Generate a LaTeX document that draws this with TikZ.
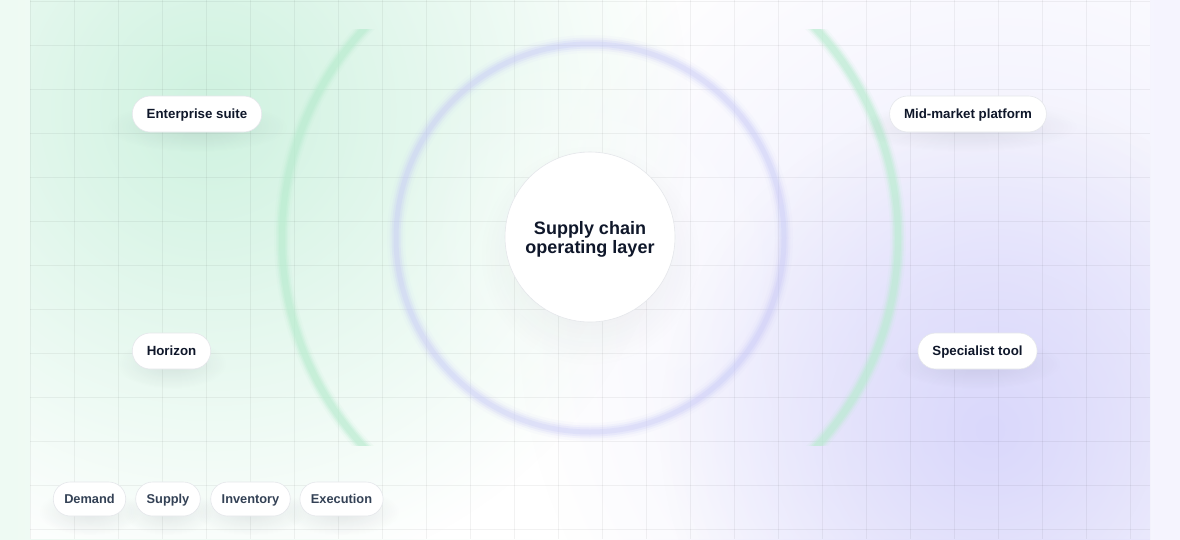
\documentclass[tikz,border=0pt]{standalone}
\usepackage{fontspec}
\setmainfont{Liberation Sans}
\usetikzlibrary{fadings,shadows}
\definecolor{bgL}{HTML}{EEFAF3}
\definecolor{bgR}{HTML}{F5F4FE}
\definecolor{glowG}{HTML}{CFF2E0}
\definecolor{glowP}{HTML}{DAD8FB}
\definecolor{glowP2}{HTML}{ECEBFD}
\definecolor{arcG}{HTML}{B8ECCF}
\definecolor{ringP}{HTML}{C4C6F7}
\definecolor{ink}{HTML}{0F172A}
\definecolor{chipink}{HTML}{334155}
\definecolor{edge}{HTML}{E5E7EB}
\definecolor{shade}{HTML}{1E293B}
\tikzfading[name=softglow, inner color=transparent!0, outer color=transparent!100]
\tikzset{
  softshadow/.style={
    general shadow={fill=shade, opacity=0.10, path fading=softglow, shadow yshift=-9pt, shadow scale=1.4}},
  pill/.style={draw=edge, line width=0.6pt, fill=white, rounded corners=18pt,
    minimum height=36pt, inner xsep=14.5pt, inner ysep=0pt, text height=9.5pt, text depth=0pt,
    font=\fontsize{13.3}{15}\selectfont\bfseries, text=ink, softshadow},
  chip/.style={draw=edge, line width=0.6pt, fill=white, rounded corners=17pt,
    minimum height=34pt, inner xsep=11pt, inner ysep=0pt, text height=9.2pt, text depth=0pt,
    font=\fontsize{12.8}{14}\selectfont\bfseries, text=chipink, softshadow},
  core/.style={circle, draw=edge, line width=0.6pt, fill=white, minimum size=170pt,
    general shadow={fill=shade, opacity=0.10, path fading=softglow, shadow yshift=-14pt, shadow scale=1.3}},
  coretext/.style={align=center, font=\fontsize{18}{19}\selectfont\bfseries, text=ink, inner sep=0pt},
  gridline/.style={draw=black, opacity=0.05, line width=0.8pt}
}
\begin{document}
\begin{tikzpicture}[x=1pt,y=-1pt]
\useasboundingbox (0,0) rectangle (1180,539);
% page background
\shade[left color=bgL, right color=bgR, middle color=white] (0,0) rectangle (1180,539);
% panel
\begin{scope}
  \clip (30,0) rectangle (1150,539);
  \fill[white] (30,0) rectangle (1150,539);
  \fill[glowP2, path fading=softglow] (1000,330) circle (480);
  \fill[glowG, path fading=softglow] (210,110) circle (480);
  \fill[glowP, path fading=softglow] (990,430) circle (330);
  \fill[white, path fading=softglow, opacity=0.5] (590,240) circle (200);
  \foreach \i in {0,...,25} { \draw[gridline] (30+44*\i,0) -- (30+44*\i,539); }
  \foreach \j in {0,...,12} { \draw[gridline] (30,1+44*\j) -- (1150,1+44*\j); }
\end{scope}
% green arcs
\begin{scope}
  \clip (0,29) rectangle (1180,445);
  \foreach \w/\o in {16/0.10, 12/0.2, 9/0.3, 6/0.38} {
    \draw[arcG, line width=\w pt, opacity=\o] (590,238) circle (308);
  }
\end{scope}
% purple ring
\foreach \w/\o in {18/0.06, 13/0.12, 9/0.2, 5/0.25} {
  \draw[ringP, line width=\w pt, opacity=\o] (590,238) circle (194);
}
% center
\node[core] (core) at (590,237) {};
\node[coretext] (coretxt) at (590,239) {Supply chain\\operating layer};
% pills
\node[pill] (ent) at (197,114) {Enterprise suite};
\node[pill] (mid) at (968,114) {Mid-market platform};
\node[pill] (hor) at (171.5,351) {Horizon};
\node[pill] (spec) at (977.5,351) {Specialist tool};
% chips
\node[chip] (dem) at (89.5,499) {Demand};
\node[chip] (sup) at (168,499) {Supply};
\node[chip] (inv) at (250.5,499) {Inventory};
\node[chip] (exe) at (341.5,499) {Execution};
\end{tikzpicture}
\end{document}
